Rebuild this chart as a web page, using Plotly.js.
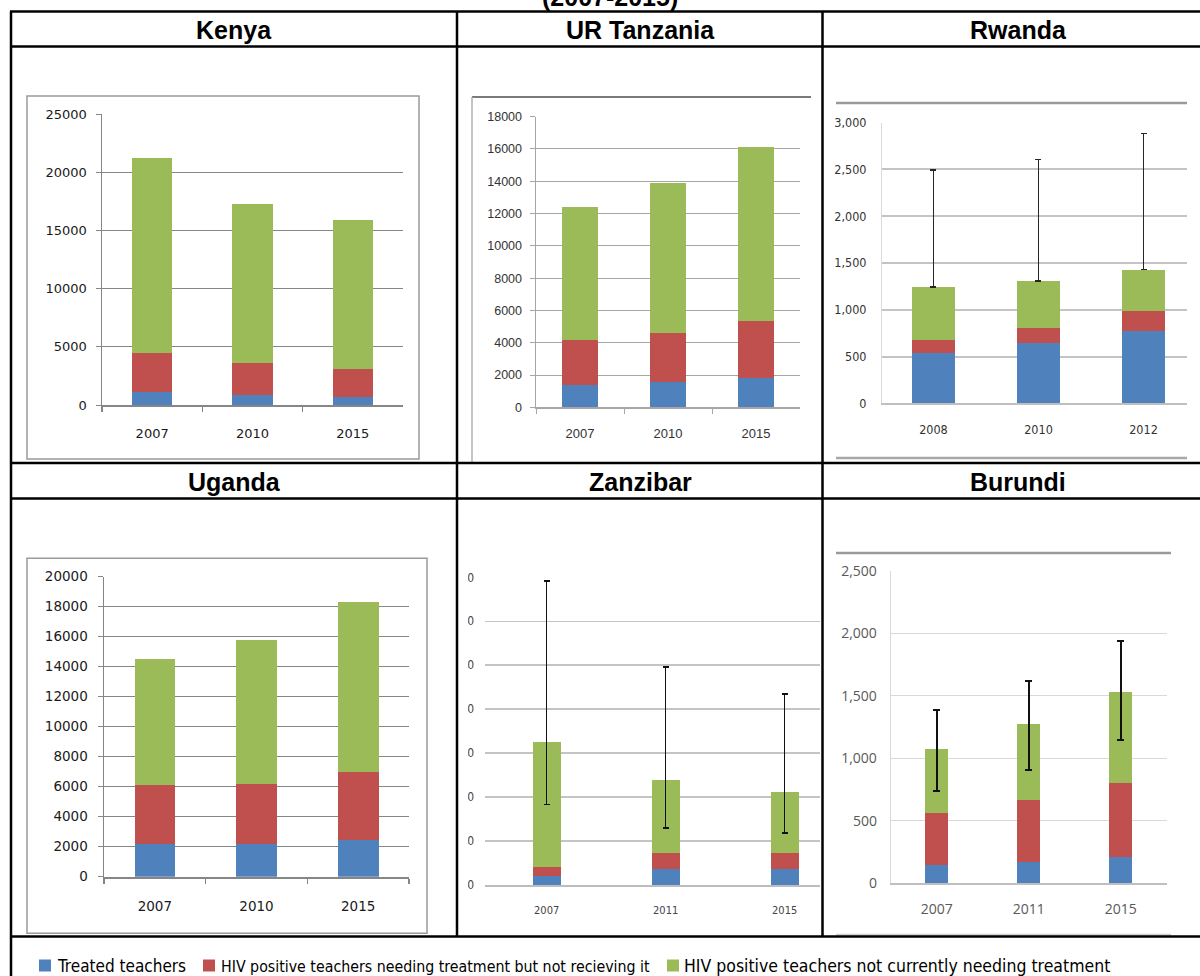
<!DOCTYPE html>
<html>
<head>
<meta charset="utf-8">
<script src="https://cdn.plot.ly/plotly-3.0.1.min.js"></script>
<style>html,body{margin:0;padding:0;background:#fff;}#chart{width:1200px;height:976px;}</style>
</head>
<body>
<div id="chart"></div>
<script>
// ---------------- DATA ----------------
const seriesNames = ['Treated teachers', 'HIV positive teachers needing treatment but not recieving it', 'HIV positive teachers not currently needing treatment'];
const seriesColors = ['#4F81BD', '#C0504D', '#9BBB59'];

const panelTitles = ['Kenya', 'UR Tanzania', 'Rwanda', 'Uganda', 'Zanzibar', 'Burundi'];
const figureSubtitle = '(2007-2015)';

const kenyaYears = ['2007', '2010', '2015'];
const kenyaTreated = [1150, 830, 720];
const kenyaNeeding = [3320, 2800, 2400];
const kenyaNotNeeding = [16750, 13600, 12800];

const tanzaniaYears = ['2007', '2010', '2015'];
const tanzaniaTreated = [1380, 1550, 1800];
const tanzaniaNeeding = [2790, 3070, 3550];
const tanzaniaNotNeeding = [8220, 9250, 10750];

const rwandaYears = ['2008', '2010', '2012'];
const rwandaTreated = [540, 640, 775];
const rwandaNeeding = [135, 170, 210];
const rwandaNotNeeding = [570, 495, 445];
const rwandaErrPlus = [1250, 1300, 1455];
const rwandaErrMinus = [0, 0, 0];

const ugandaYears = ['2007', '2010', '2015'];
const ugandaTreated = [2200, 2200, 2450];
const ugandaNeeding = [3900, 4000, 4550];
const ugandaNotNeeding = [8400, 9600, 11300];

const zanzibarYears = ['2007', '2011', '2015'];
const zanzibarTreated = [20, 37, 37];
const zanzibarNeeding = [20, 36, 35];
const zanzibarNotNeeding = [286, 166, 139];
const zanzibarErrPlus = [366, 257, 223];
const zanzibarErrMinus = [143, 109, 93];

const burundiYears = ['2007', '2011', '2015'];
const burundiTreated = [147, 173, 208];
const burundiNeeding = [418, 493, 591];
const burundiNotNeeding = [512, 605, 728];
const burundiErrPlus = [309, 346, 410];
const burundiErrMinus = [341, 365, 381];

// ---------------- HELPERS ----------------
const W = 1200, H = 976;
const px = x => x / W;
const py = y => 1 - y / H;

const traces = [];
function addPanel(n, years, series, barWidth, err) {
  series.forEach((vals, i) => {
    const t = {
      type: 'bar', x: years, y: vals, name: seriesNames[i],
      xaxis: 'x' + (n === 1 ? '' : n), yaxis: 'y' + (n === 1 ? '' : n),
      marker: { color: seriesColors[i], line: { width: 0 } },
      width: barWidth, showlegend: false, hoverinfo: 'skip'
    };
    if (i === 2 && err) {
      t.error_y = Object.assign({ type: 'data', symmetric: false, visible: true }, err);
    }
    traces.push(t);
  });
}

addPanel(1, kenyaYears, [kenyaTreated, kenyaNeeding, kenyaNotNeeding], 0.4);
addPanel(2, tanzaniaYears, [tanzaniaTreated, tanzaniaNeeding, tanzaniaNotNeeding], 0.4);
addPanel(3, rwandaYears, [rwandaTreated, rwandaNeeding, rwandaNotNeeding], 0.41,
  { array: rwandaErrPlus, arrayminus: rwandaErrMinus, color: '#262626', thickness: 1.5, width: 3 });
addPanel(4, ugandaYears, [ugandaTreated, ugandaNeeding, ugandaNotNeeding], 0.4);
addPanel(5, zanzibarYears, [zanzibarTreated, zanzibarNeeding, zanzibarNotNeeding], 0.235,
  { array: zanzibarErrPlus, arrayminus: zanzibarErrMinus, color: '#111', thickness: 1.5, width: 3 });
addPanel(6, burundiYears, [burundiTreated, burundiNeeding, burundiNotNeeding], 0.25,
  { array: burundiErrPlus, arrayminus: burundiErrMinus, color: '#111', thickness: 1.8, width: 3.5 });

const narrow = '"Liberation Sans Narrow", "Arial Narrow", "DejaVu Sans Condensed", sans-serif';

const layout = {
  width: W, height: H,
  margin: { l: 0, r: 0, t: 0, b: 0 },
  paper_bgcolor: '#ffffff', plot_bgcolor: 'rgba(0,0,0,0)',
  barmode: 'stack', showlegend: false,
  font: { family: '"Liberation Sans", Arial, sans-serif', color: '#000' },

  // Kenya
  xaxis: { domain: [px(102), px(403)], anchor: 'y', type: 'category', range: [-0.5, 2.5],
    showline: true, linecolor: '#868686', linewidth: 2, ticks: 'outside', tickson: 'boundaries',
    ticklen: 5, tickcolor: '#868686', tickwidth: 1.5, showgrid: false,
    tickfont: { family: '"DejaVu Sans", sans-serif', size: 13, color: '#1a1a1a' }, ticklabelstandoff: 15, fixedrange: true },
  yaxis: { domain: [py(405), py(114)], anchor: 'x', range: [0, 25000], dtick: 5000, tickformat: 'd',
    showline: true, linecolor: '#868686', linewidth: 1.5, ticks: 'outside', ticklen: 5, tickcolor: '#868686',
    gridcolor: '#868686', gridwidth: 1, zeroline: false,
    tickfont: { family: '"DejaVu Sans", sans-serif', size: 13, color: '#1a1a1a' }, ticklabelstandoff: 6, fixedrange: true },

  // Tanzania
  xaxis2: { domain: [px(536), px(800)], anchor: 'y2', type: 'category', range: [-0.5, 2.5],
    showline: true, linecolor: '#A6A6A6', linewidth: 1.5, ticks: 'outside', tickson: 'boundaries',
    ticklen: 5, tickcolor: '#A6A6A6', tickwidth: 1, showgrid: false,
    tickfont: { size: 13, color: '#333' }, ticklabelstandoff: 14, fixedrange: true },
  yaxis2: { domain: [py(407.3), py(116.7)], anchor: 'x2', range: [0, 18000], dtick: 2000, tickformat: 'd',
    showline: true, linecolor: '#A6A6A6', linewidth: 1.5, ticks: 'outside', ticklen: 5, tickcolor: '#A6A6A6',
    gridcolor: '#A6A6A6', gridwidth: 1, zeroline: false,
    tickfont: { size: 12.5, color: '#333' }, ticklabelstandoff: 5, fixedrange: true },

  // Rwanda
  xaxis3: { domain: [px(882), px(1187)], anchor: 'y3', type: 'category', range: [-0.49, 2.414],
    showline: true, linecolor: '#BFBFBF', linewidth: 2, ticks: '', showgrid: false,
    tickfont: { family: narrow, size: 12.5, color: '#333' }, ticklabelstandoff: 14, fixedrange: true },
  yaxis3: { domain: [py(403.3), py(122.7)], anchor: 'x3', range: [0, 3000], dtick: 500, tickformat: ',d',
    showline: true, linecolor: '#D9D9D9', linewidth: 1, ticks: '',
    gridcolor: '#C4C4C4', gridwidth: 2, zeroline: false,
    tickfont: { family: narrow, size: 12.5, color: '#333' }, ticklabelstandoff: 12, fixedrange: true },

  // Uganda
  xaxis4: { domain: [px(104), px(409)], anchor: 'y4', type: 'category', range: [-0.5, 2.5],
    showline: true, linecolor: '#868686', linewidth: 2, ticks: 'outside', tickson: 'boundaries',
    ticklen: 5, tickcolor: '#868686', tickwidth: 1.5, showgrid: false,
    tickfont: { family: '"DejaVu Sans", sans-serif', size: 13.5, color: '#1a1a1a' }, ticklabelstandoff: 16, fixedrange: true },
  yaxis4: { domain: [py(876.7), py(576.7)], anchor: 'x4', range: [0, 20000], dtick: 2000, tickformat: 'd',
    showline: true, linecolor: '#868686', linewidth: 1.5, ticks: 'outside', ticklen: 5, tickcolor: '#868686',
    gridcolor: '#868686', gridwidth: 1, zeroline: false,
    tickfont: { family: '"DejaVu Sans", sans-serif', size: 13.5, color: '#1a1a1a' }, ticklabelstandoff: 7, fixedrange: true },

  // Zanzibar
  xaxis5: { domain: [px(485), px(820)], anchor: 'y5', type: 'category', range: [-0.518, 2.297],
    showline: true, linecolor: '#BDBDBD', linewidth: 1.5, ticks: '', showgrid: false,
    tickfont: { family: narrow, size: 11, color: '#444' }, ticklabelstandoff: 14, fixedrange: true },
  yaxis5: { domain: [py(885), py(577.3)], anchor: 'x5', range: [0, 700], dtick: 100, tickformat: 'd',
    showline: false, ticks: '', gridcolor: '#C4C4C4', gridwidth: 1.5, zeroline: false,
    tickfont: { family: narrow, size: 12, color: '#444' }, ticklabelstandoff: 10, fixedrange: true },

  // Burundi
  xaxis6: { domain: [px(890.7), px(1166.7)], anchor: 'y6', type: 'category', range: [-0.5, 2.5],
    showline: true, linecolor: '#BFBFBF', linewidth: 1.5, ticks: '', showgrid: false,
    tickfont: { family: '"Open Sans", sans-serif', size: 14, color: '#595959' }, ticklabelstandoff: 12, fixedrange: true },
  yaxis6: { domain: [py(883.3), py(570.7)], anchor: 'x6', range: [0, 2500], dtick: 500, tickformat: ',d',
    showline: true, linecolor: '#D9D9D9', linewidth: 1, ticks: '',
    gridcolor: '#D9D9D9', gridwidth: 1.2, zeroline: false,
    tickfont: { family: '"Open Sans", sans-serif', size: 14, color: '#595959' }, ticklabelstandoff: 10, fixedrange: true },
  shapes: [],
  annotations: []
};

const S = layout.shapes, A = layout.annotations;
function line(x0, y0, x1, y1, color, width) {
  S.push({ type: 'line', xref: 'paper', yref: 'paper', x0: px(x0), y0: py(y0), x1: px(x1), y1: py(y1),
    line: { color: color, width: width }, layer: 'above' });
}
function rect(x0, y0, x1, y1, fill, lineColor, lineWidth) {
  S.push({ type: 'rect', xref: 'paper', yref: 'paper', x0: px(x0), y0: py(y0), x1: px(x1), y1: py(y1),
    fillcolor: fill, line: { color: lineColor || 'rgba(0,0,0,0)', width: lineWidth || 0 }, layer: 'above' });
}

// cover cropped Zanzibar tick labels (only their right edge is visible in the source)
rect(429, 560, 468, 895, '#ffffff');

// inner chart frames (grey)
rect(27, 96, 419, 459, 'rgba(0,0,0,0)', '#9A9A9A', 1.5);
line(472, 97, 811, 97, '#7A7A7A', 2);
line(472, 97, 472, 462, '#B0B0B0', 1.5);
line(836, 103, 1187, 103, '#9A9A9A', 2.5);
line(836, 458, 1187, 458, '#A8A8A8', 2.5);
rect(27, 558.3, 427, 933.3, 'rgba(0,0,0,0)', '#9A9A9A', 1.5);
line(836, 553, 1171, 553, '#9A9A9A', 2.5);
line(836, 934.7, 1171, 934.7, '#D0D0D0', 2);

// table grid (black)
const tb = '#000000', tw = 2.5;
line(10, 11.5, 1200, 11.5, tb, tw);
line(11, 11.5, 11, 976, tb, tw);
line(11, 46.5, 1200, 46.5, tb, tw);
line(11, 463, 1200, 463, tb, tw);
line(11, 498.5, 1200, 498.5, tb, tw);
line(11, 936.5, 1200, 936.5, tb, tw);
line(457, 11.5, 457, 936.5, tb, tw);
line(822.5, 11.5, 822.5, 936.5, tb, tw);

// header texts
const hdrFont = { family: '"Liberation Sans", Arial, sans-serif', size: 25, color: '#000' };
const hdrX = [234, 640, 1018, 234, 640, 1018];
const hdrY = [30, 30, 30, 481.5, 481.5, 481.5];
panelTitles.forEach((t, i) => {
  A.push({ xref: 'paper', yref: 'paper', x: px(hdrX[i]), y: py(hdrY[i]), xanchor: 'center', yanchor: 'middle',
    text: '<b>' + t + '</b>', showarrow: false, font: hdrFont });
});
// partially cropped subtitle at the very top (cut by the page edge, as in the source)
A.push({ xref: 'paper', yref: 'paper', x: px(610), y: py(-3), xanchor: 'center', yanchor: 'middle',
  text: '<b>' + figureSubtitle + '</b>', showarrow: false, font: hdrFont });

// legend
const legSquareX = [39, 203, 667];
const legTextX = [55, 219, 682];
const legSize = [17, 15.8, 17.5];
seriesNames.forEach((nm, i) => {
  rect(legSquareX[i], 959.5, legSquareX[i] + 12, 971.5, seriesColors[i]);
  A.push({ xref: 'paper', yref: 'paper', x: px(legTextX[i]), y: py(966), xanchor: 'left', yanchor: 'middle',
    text: nm, showarrow: false, font: { family: narrow, size: legSize[i], color: '#000' } });
});

Plotly.newPlot('chart', traces, layout, { staticPlot: true, displayModeBar: false });
</script>
</body>
</html>
